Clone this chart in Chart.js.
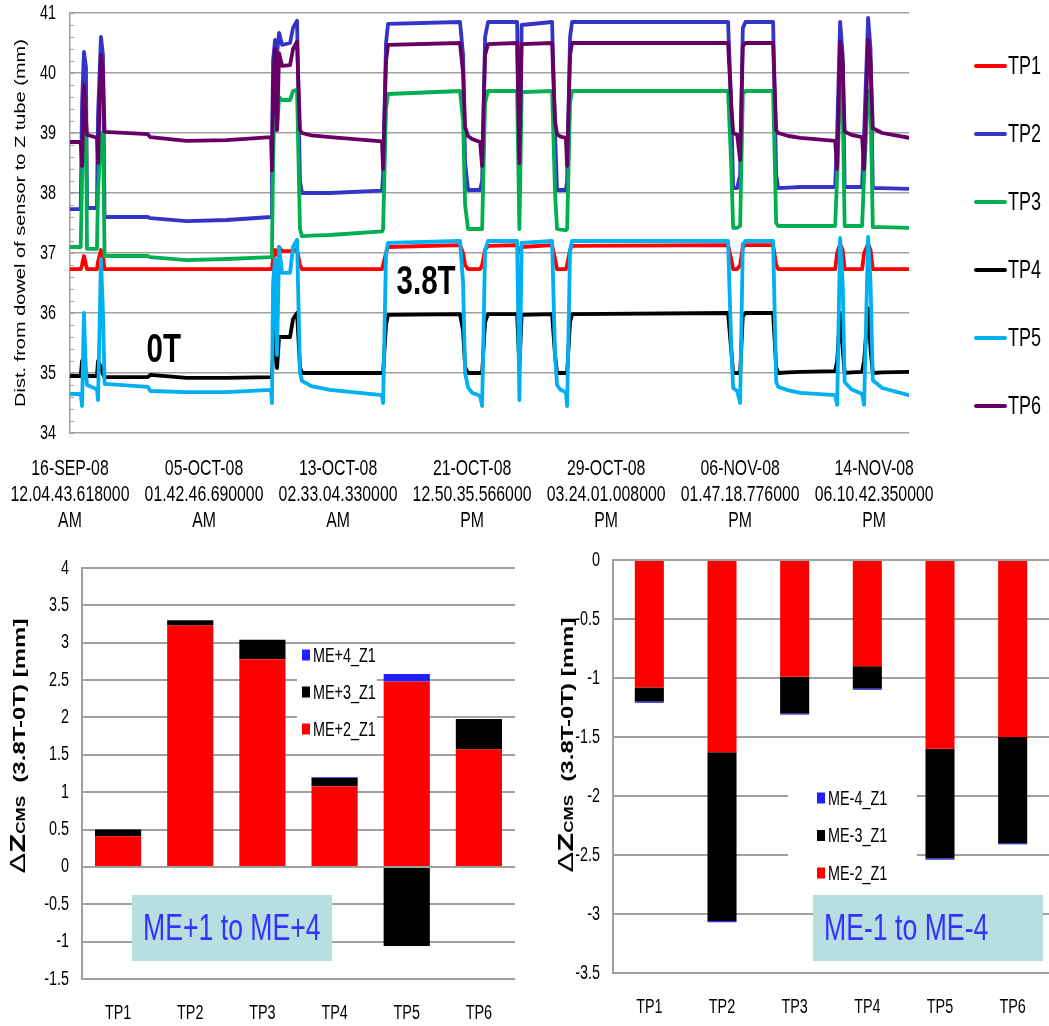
<!DOCTYPE html>
<html><head><meta charset="utf-8">
<script src="https://cdn.jsdelivr.net/npm/chart.js@4.4.1/dist/chart.umd.min.js"></script>
<style>
html,body{margin:0;padding:0;background:#fff;width:1049px;height:1026px;overflow:hidden}
canvas{position:absolute}
#topChart{left:0;top:0}
#plusChart{left:0;top:540px}
#minusChart{left:530px;top:540px}
</style></head><body>
<canvas id="topChart" width="1049" height="540"></canvas>
<canvas id="plusChart" width="530" height="486"></canvas>
<canvas id="minusChart" width="519" height="486"></canvas>
<script>
// ---------------- DATA: top time series (sample index, label every 100 samples) ----------------
const xs = [0, 8, 9, 10.4, 11.9, 12.7, 20.1, 20.9, 23.1, 24.6, 25.8, 58, 60, 87, 117, 150,
  150.7, 151.5, 153, 154.5, 156, 158.2, 164.2, 166.4, 169.4, 171.6, 173.1, 180, 194, 232.8,
  233.6, 235.8, 237.3, 291, 293.3, 294.8, 297, 300, 306, 307.5, 309.7, 311.9, 333.6, 335.3, 337, 359.7, 361.9, 363.4, 366, 370,
  370.9, 373.1, 374.6, 491, 493.3, 494.8, 497.8, 500, 502, 504, 524.6, 526.9, 528.4, 536, 545, 570.9,
  572.4, 574.6, 576.5, 578, 583, 591, 592.5, 595.5, 597.3, 599, 606, 626];
const tp1 = [36.73, 36.73, 36.8, 36.95, 36.8, 36.73, 36.73, 36.85, 37.05, 36.95, 36.73, 36.73, 36.73, 36.73, 36.73, 36.73,
  36.75, 36.9, 37.05, 36.97, 37.1, 37.03, 37.03, 37.05, 37.05, 36.8, 36.73, 36.73, 36.73, 36.73,
  36.8, 37.0, 37.1, 37.13, 37.0, 36.8, 36.73, 36.73, 36.73, 36.8, 37.05, 37.12, 37.13, 37.0, 37.1, 37.13, 36.9, 36.73, 36.73, 36.73,
  36.8, 37.05, 37.12, 37.13, 36.9, 36.73, 36.73, 36.8, 37.1, 37.13, 37.13, 36.8, 36.73, 36.73, 36.73, 36.73,
  37.0, 37.15, 37.05, 36.73, 36.73, 36.73, 37.0, 37.15, 37.05, 36.73, 36.73, 36.73];
const tp2 = [37.73, 37.73, 39.5, 40.35, 40.1, 37.75, 37.75, 39.3, 40.6, 40.3, 37.6, 37.6, 37.58, 37.53, 37.55, 37.6,
  38.5, 40.2, 40.55, 40.33, 40.67, 40.47, 40.5, 40.75, 40.87, 38.2, 38.0, 38.0, 38.0, 38.04,
  38.3, 40.5, 40.82, 40.85, 40.3, 38.5, 38.05, 38.05, 38.05, 38.2, 40.6, 40.85, 40.85, 38.3, 40.8, 40.85, 39.0, 38.05, 38.05, 38.05,
  38.2, 40.6, 40.85, 40.85, 39.5, 38.08, 38.08, 38.3, 40.75, 40.85, 40.85, 38.3, 38.08, 38.09, 38.1, 38.1,
  39.0, 40.85, 40.3, 38.1, 38.1, 38.1, 39.0, 40.92, 40.4, 38.08, 38.08, 38.07];
const tp3 = [37.1, 37.1, 38.3, 39.25, 39.2, 37.07, 37.07, 38.0, 39.0, 39.0, 36.95, 36.95, 36.93, 36.88, 36.9, 36.93,
  37.0, 38.5, 39.8, 39.05, 39.6, 39.55, 39.55, 39.7, 39.72, 37.4, 37.28, 37.29, 37.3, 37.36,
  37.4, 39.4, 39.65, 39.7, 39.2, 37.8, 37.4, 37.4, 37.4, 37.4, 39.5, 39.7, 39.7, 37.4, 39.68, 39.7, 38.0, 37.4, 37.39, 37.38,
  37.4, 39.5, 39.7, 39.7, 38.5, 37.42, 37.42, 37.45, 39.65, 39.7, 39.7, 37.5, 37.45, 37.45, 37.45, 37.45,
  38.3, 39.72, 39.5, 37.45, 37.45, 37.45, 38.3, 39.7, 39.5, 37.43, 37.43, 37.42];
const tp4 = [34.95, 34.95, 35.2, 35.25, 35.0, 34.95, 34.95, 35.2, 35.1, 34.98, 34.93, 34.93, 34.97, 34.92, 34.92, 34.93,
  34.95, 35.3, 35.7, 35.08, 35.6, 35.6, 35.6, 35.9, 36.0, 35.1, 35.0, 35.0, 35.0, 35.0,
  35.0, 35.8, 35.97, 35.98, 35.7, 35.1, 35.0, 35.0, 35.0, 35.0, 35.85, 35.98, 35.98, 35.1, 35.97, 35.98, 35.3, 35.0, 35.0, 35.0,
  35.0, 35.85, 35.98, 36.0, 35.4, 35.0, 35.0, 35.0, 35.95, 36.0, 36.0, 35.1, 35.0, 35.01, 35.02, 35.03,
  35.2, 36.0, 35.4, 35.0, 35.01, 35.02, 35.2, 36.08, 35.4, 35.0, 35.01, 35.02];
const tp5 = [34.65, 34.65, 34.45, 36.0, 35.0, 34.8, 34.73, 34.55, 36.9, 36.0, 34.82, 34.77, 34.7, 34.68, 34.68, 34.72,
  34.5, 36.5, 36.9, 35.3, 37.1, 36.67, 36.67, 37.1, 37.22, 35.0, 34.87, 34.78, 34.72, 34.63,
  34.5, 37.0, 37.17, 37.2, 36.5, 35.0, 34.76, 34.67, 34.62, 34.45, 37.05, 37.2, 37.2, 34.55, 37.17, 37.2, 35.3, 34.8, 34.72, 34.68,
  34.45, 37.05, 37.2, 37.2, 35.5, 34.75, 34.7, 34.5, 37.15, 37.2, 37.2, 34.85, 34.77, 34.71, 34.67, 34.63,
  34.47, 37.25, 36.5, 34.85, 34.73, 34.65, 34.47, 37.27, 36.5, 34.88, 34.75, 34.63];
const tp6 = [38.85, 38.85, 38.45, 39.8, 39.2, 38.97, 38.92, 38.5, 40.3, 40.0, 39.02, 38.98, 38.93, 38.87, 38.88, 38.93,
  38.38, 39.8, 40.4, 39.05, 40.33, 40.12, 40.13, 40.4, 40.52, 39.05, 39.0, 38.96, 38.93, 38.86,
  38.4, 40.2, 40.47, 40.5, 40.0, 39.1, 38.95, 38.9, 38.85, 38.45, 40.3, 40.48, 40.5, 38.5, 40.48, 40.5, 39.2, 38.98, 38.94, 38.92,
  38.45, 40.3, 40.5, 40.5, 39.5, 39.0, 38.97, 38.55, 40.45, 40.5, 40.5, 39.05, 39.0, 38.95, 38.92, 38.87,
  38.4, 40.52, 40.2, 39.02, 38.97, 38.93, 38.4, 40.55, 40.2, 39.08, 39.0, 38.92];
const seriesNames = ['TP1','TP2','TP3','TP4','TP5','TP6'];
const seriesValues = [tp1, tp2, tp3, tp4, tp5, tp6];
const seriesColors = ['#ff0000','#3434c8','#00b050','#000000','#00b0f0','#660066'];
const xTickPos = [0, 100, 200, 300, 400, 500, 600];
const xTickLabels = [
  ['16-SEP-08','12.04.43.618000','AM'],
  ['05-OCT-08','01.42.46.690000','AM'],
  ['13-OCT-08','02.33.04.330000','AM'],
  ['21-OCT-08','12.50.35.566000','PM'],
  ['29-OCT-08','03.24.01.008000','PM'],
  ['06-NOV-08','01.47.18.776000','PM'],
  ['14-NOV-08','06.10.42.350000','PM']
];
const fieldNotes = [{text:'0T', x:70, y:35.38}, {text:'3.8T', x:265.7, y:36.5}];

// ---------------- DATA: bottom stacked bars ----------------
const tpCats = ['TP1','TP2','TP3','TP4','TP5','TP6'];
const plusNames = ['ME+2_Z1','ME+3_Z1','ME+4_Z1'];
const plusME2 = [0.41, 3.23, 2.78, 1.08, 2.48, 1.57];
const plusME3 = [0.09, 0.07, 0.26, 0.11, -1.06, 0.41];
const plusME4 = [0, 0, 0, 0.01, 0.10, 0];
const minusNames = ['ME-2_Z1','ME-3_Z1','ME-4_Z1'];
const minusME2 = [-1.08, -1.63, -0.99, -0.90, -1.60, -1.50];
const minusME3 = [-0.12, -1.43, -0.31, -0.19, -0.93, -0.90];
const minusME4 = [-0.01, -0.01, -0.01, -0.01, -0.01, -0.01];
const stackColors = ['#ff0000','#000000','#2020ff'];

// ---------------- narrow text rendering (source figure is horizontally condensed) ----------------
const SQ = 0.72;
(function(){
  const P = CanvasRenderingContext2D.prototype;
  const oFill = P.fillText, oMeasure = P.measureText;
  P.fillText = function(t, x, y, mw){
    const m = this.getTransform();
    const px = m.a * x + m.c * y + m.e;
    this.save();
    this.setTransform(new DOMMatrix([SQ, 0, 0, 1, px * (1 - SQ), 0]).multiply(m));
    if (mw === undefined) oFill.call(this, t, x, y); else oFill.call(this, t, x, y, mw);
    this.restore();
  };
  P.measureText = function(t){
    const r = oMeasure.call(this, t);
    const m = this.getTransform();
    if (Math.abs(m.b) > 1e-6 || Math.abs(m.c) > 1e-6) return r;
    return {width: r.width * SQ,
      actualBoundingBoxLeft: r.actualBoundingBoxLeft * SQ, actualBoundingBoxRight: r.actualBoundingBoxRight * SQ,
      actualBoundingBoxAscent: r.actualBoundingBoxAscent, actualBoundingBoxDescent: r.actualBoundingBoxDescent,
      fontBoundingBoxAscent: r.fontBoundingBoxAscent, fontBoundingBoxDescent: r.fontBoundingBoxDescent};
  };
})();

const FONT = 'Liberation Sans';
const GRID = '#a0a0a0';
Chart.defaults.font.family = FONT;

// ---------------- top chart ----------------
const topDecor = {
  id: 'topDecor',
  afterDraw(chart){
    const {ctx, chartArea: a, scales: {x, y}} = chart;
    ctx.save();
    ctx.strokeStyle = GRID; ctx.lineWidth = 1;
    for (let k = 0; k <= 35; k++){
      const py = Math.round(y.getPixelForValue(34 + 0.2 * k)) + 0.5;
      ctx.beginPath(); ctx.moveTo(a.left - 1, py); ctx.lineTo(a.left + 4, py); ctx.stroke();
    }
    ctx.fillStyle = '#000'; ctx.textAlign = 'center'; ctx.textBaseline = 'middle';
    ctx.font = `bold 41px "${FONT}"`;
    for (const n of fieldNotes) ctx.fillText(n.text, x.getPixelForValue(n.x), y.getPixelForValue(n.y));
    ctx.textAlign = 'left'; ctx.font = `25px "${FONT}"`;
    chart.data.datasets.forEach((ds, i) => {
      const ly = 66 + 68 * i;
      ctx.strokeStyle = ds.borderColor; ctx.lineWidth = 4; ctx.lineCap = 'round';
      ctx.beginPath(); ctx.moveTo(976, ly); ctx.lineTo(1005, ly); ctx.stroke();
      ctx.fillStyle = '#000'; ctx.fillText(ds.label, 1008, ly + 1);
    });
    ctx.restore();
  }
};

new Chart(document.getElementById('topChart'), {
  type: 'line',
  data: {
    datasets: seriesNames.map((n, i) => ({
      label: n,
      data: xs.map((xv, k) => ({x: xv, y: seriesValues[i][k]})),
      borderColor: seriesColors[i], backgroundColor: seriesColors[i],
      borderWidth: 3.8, pointRadius: 0, tension: 0, fill: false,
      borderJoinStyle: 'round', borderCapStyle: 'round',
      order: 5 - i
    }))
  },
  options: {
    responsive: false, animation: false, devicePixelRatio: 1,
    layout: {padding: {top: 13, right: 140, left: 0, bottom: 0}},
    plugins: {legend: {display: false}, tooltip: {enabled: false}},
    scales: {
      x: {
        type: 'linear', min: 0, max: 626,
        grid: {display: false, drawTicks: false}, border: {display: false},
        afterBuildTicks: s => { s.ticks = xTickPos.map(v => ({value: v})); },
        ticks: {autoSkip: false, maxRotation: 0, minRotation: 0, padding: 23, color: '#000',
          font: {size: 22, lineHeight: 1.18},
          callback: v => xTickLabels[xTickPos.indexOf(v)]},
        afterFit: s => { s.height = 107; s.paddingLeft = 0; s.paddingRight = 0; }
      },
      y: {
        min: 34, max: 41,
        ticks: {stepSize: 1, padding: 14, color: '#000', font: {size: 20}},
        grid: {color: GRID, lineWidth: 1.5, drawTicks: false},
        border: {color: GRID, width: 1.5},
        title: {display: true, text: 'Dist. from dowel of sensor to Z tube (mm)', color: '#000',
          font: {size: 20}, padding: {top: 9, bottom: 0}},
        afterFit: s => { s.width = 70; s.paddingTop = 0; s.paddingBottom = 0; }
      }
    }
  },
  plugins: [topDecor]
});

// ---------------- bottom charts ----------------
function drawDeltaTitle(ctx, bx, cy){
  const parts = [
    {t: 'Δ', f: `31px "${FONT}"`},
    {t: 'Z', f: `bold 31px "${FONT}"`},
    {t: 'CMS', f: `bold 17px "${FONT}"`},
    {t: '  (3.8T-0T) [mm]', f: `bold 24px "${FONT}"`}
  ];
  ctx.save();
  ctx.translate(bx, cy); ctx.rotate(-Math.PI / 2);
  ctx.textBaseline = 'alphabetic'; ctx.textAlign = 'left'; ctx.fillStyle = '#000';
  let total = 0;
  for (const p of parts){ ctx.font = p.f; p.w = ctx.measureText(p.t).width; total += p.w; }
  let x = -total / 2;
  for (const p of parts){ ctx.font = p.f; ctx.fillText(p.t, x, 0); x += p.w; }
  ctx.restore();
}

const barDecor = {
  id: 'barDecor',
  afterDatasetsDraw(chart, args, o){
    const ctx = chart.ctx;
    ctx.save();
    const [bx, by, bw, bh] = o.legendBox;
    ctx.fillStyle = '#fff'; ctx.fillRect(bx, by, bw, bh);
    ctx.font = `20px "${FONT}"`; ctx.textBaseline = 'middle'; ctx.textAlign = 'left';
    const ds = chart.data.datasets.slice().reverse();
    ds.forEach((d, i) => {
      const ly = o.legendY0 + o.legendDy * i;
      ctx.fillStyle = d.backgroundColor; ctx.fillRect(o.legendX, ly - 5.5, 8, 11);
      ctx.fillStyle = '#000'; ctx.fillText(d.label, o.legendX + 11, ly + 1);
    });
    const [nx, ny, nw, nh] = o.noteBox;
    ctx.fillStyle = '#b7dee0'; ctx.fillRect(nx, ny, nw, nh);
    ctx.fillStyle = '#3333ff'; ctx.font = `37px "${FONT}"`;
    ctx.fillText(o.noteText, nx + 11, ny + nh / 2 + 2);
    drawDeltaTitle(ctx, o.titleX, o.titleY);
    ctx.restore();
  }
};

function makeBar(id, names, series, yMin, yMax, cfg){
  return new Chart(document.getElementById(id), {
    type: 'bar',
    data: {
      labels: tpCats,
      datasets: names.map((n, i) => ({
        label: n, data: series[i], backgroundColor: stackColors[i], borderWidth: 0,
        barPercentage: cfg.barPct, categoryPercentage: 1
      }))
    },
    options: {
      responsive: false, animation: false, devicePixelRatio: 1,
      layout: {padding: {top: cfg.padTop, right: cfg.padRight, left: 0, bottom: 0}},
      plugins: {legend: {display: false}, tooltip: {enabled: false}, barDecor: cfg.decor},
      scales: {
        x: {stacked: true, grid: {display: false, drawTicks: false}, border: {display: false},
          ticks: {padding: 22, color: '#000', font: {size: 20}},
          afterFit: s => { s.height = cfg.xH; s.paddingLeft = 0; s.paddingRight = 0; }},
        y: {stacked: true, min: yMin, max: yMax,
          ticks: {stepSize: 0.5, padding: 13, color: '#000', font: {size: 20},
            callback: v => String(Math.round(v * 10) / 10)},
          grid: {color: GRID, lineWidth: 2, drawTicks: false},
          border: {color: GRID, width: 2},
          afterFit: s => { s.width = cfg.yW; s.paddingTop = 0; s.paddingBottom = 0; }}
      }
    },
    plugins: [barDecor]
  });
}

makeBar('plusChart', plusNames, [plusME2, plusME3, plusME4], -1.5, 4, {
  barPct: 0.64, padTop: 28, padRight: 15, xH: 47, yW: 82,
  decor: {legendBox: [297, 107, 80, 95], legendX: 302, legendY0: 115, legendDy: 37,
    noteBox: [132, 355, 200, 66], noteText: 'ME+1 to ME+4', titleX: 25, titleY: 206}
});
makeBar('minusChart', minusNames, [minusME2, minusME3, minusME4], -3.5, 0, {
  barPct: 0.40, padTop: 20, padRight: 0, xH: 53, yW: 83,
  decor: {legendBox: [258, 238, 129, 114], legendX: 287, legendY0: 258, legendDy: 37.5,
    noteBox: [283, 355, 230, 66], noteText: 'ME-1 to ME-4', titleX: 43, titleY: 205}
});
</script></body></html>
